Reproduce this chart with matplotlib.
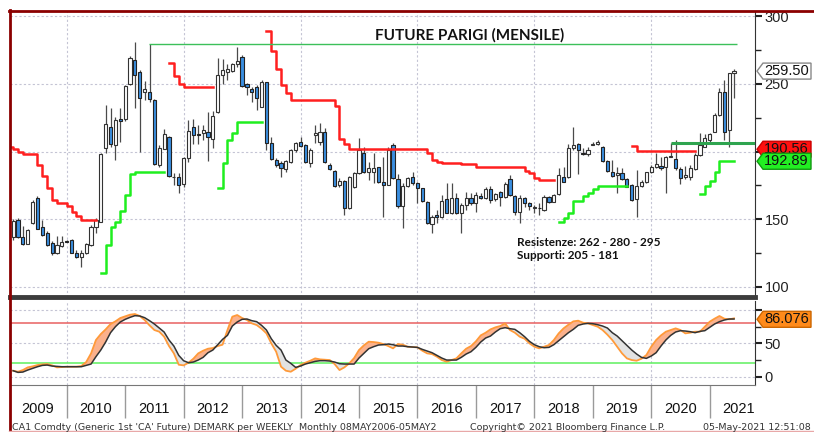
import numpy as np
import matplotlib
matplotlib.use("Agg")
import matplotlib.pyplot as plt
from matplotlib.patches import Polygon
from matplotlib.lines import Line2D
from matplotlib.transforms import IdentityTransform

plt.rcParams['font.family'] = ['Liberation Sans', 'DejaVu Sans']

# monthly candles, Jan 2009 .. May 2021 (index 0..148)
opens = [137, 149.5, 137, 132, 147, 165.5, 144.6, 139.7, 132.3, 124.9, 130.3, 134, 134.7, 125.4, 122, 124.9,
         131, 144.6, 148.3, 202.5, 218.5, 204.9, 224, 223.9, 250, 267.7, 259, 244, 244.3, 238, 190, 201.7,
         211, 181, 181.5, 176, 195, 218, 212.5, 213.5, 214.8, 209.1, 229.3, 256.6, 259, 259.6, 264.6, 269.7,
         249.7, 246, 247.5, 233.3, 251.2, 206.7, 193.8, 191.4, 187.2, 192.6, 201.2, 207.4, 204.9, 191.9, 212,
         207.4, 214.8, 190.1, 186, 175.4, 178.6, 158.1, 174.1, 184, 198.8, 185.2, 185, 188.4, 177.8, 175.4,
         204.9, 179.6, 159.9, 174.6, 181, 176.6, 172.9, 163.1, 146.6, 153.2, 151.5, 164.8, 154.4, 165.5, 154.4,
         160.6, 165.5, 161.8, 167.2, 165.5, 172.2, 164.8, 170.4, 166.7, 179.6, 167.5, 155.7, 165.5, 161.8, 158.5,
         158.4, 156.9, 166.3, 163.1, 168.7, 181.5, 181.5, 202.5, 205.4, 198.8, 198.3, 205, 206, 203.7, 193.3,
         185.2, 183, 184.5, 179.6, 175.4, 164.8, 174.6, 177.8, 184.7, 188.4, 189.4, 188.4, 196, 194.3, 187, 181,
         181, 187.2, 197.5, 203.7, 208.6, 214.8, 227.1, 244.3, 216, 258]
highs = [150, 151, 145, 142.5, 164.3, 167.5, 149.5, 141.4, 134, 137.7, 137.7, 134.5, 135.2, 127.3, 127.3, 132.3,
         145.8, 150.7, 199, 234.5, 232, 225.4, 232, 249, 271, 281, 260, 252, 279.5, 238.7, 205, 217,
         211.6, 184, 184, 196.3, 223.4, 224, 219.7, 219.7, 229.5, 230, 269, 268.2, 265, 265.3, 277, 271.4,
         250.5, 247.5, 249.3, 253, 251.7, 210.6, 195.1, 193.3, 193.8, 201.7, 207.4, 210.6, 205.7, 202.5, 219.7,
         221.4, 217.2, 191.4, 186.5, 180.3, 179.1, 182, 185.2, 209.9, 203.2, 192.6, 198.8, 188.9, 196.3, 203.7,
         206.6, 183.5, 176.6, 181.5, 185.2, 177.8, 173.4, 163.6, 153.2, 156.9, 168, 176.6, 177.1, 169.2, 161.8,
         170.4, 169.2, 170.4, 169.2, 174.1, 174.6, 169.2, 171.2, 177.8, 182.8, 168, 168, 166.3, 163.1, 160.6,
         161.8, 168, 167.2, 168.7, 187.7, 188.4, 205.7, 218.5, 206.2, 202.5, 203.7, 207.4, 208.6, 204.2, 193.8,
         193.8, 188.9, 187.7, 180.3, 176.1, 186.5, 179.1, 185.2, 190.1, 198.8, 196.3, 196.8, 206.2, 208.6, 188.9,
         189.4, 190.1, 198.8, 213.5, 213.1, 214, 228.3, 246.8, 253, 258.4, 260.8]
lows = [135, 136, 131, 131.5, 146.5, 143, 138, 130.3, 123.6, 124.4, 129.8, 133, 124.9, 121.4, 115, 124.4,
        130.3, 140, 148, 198.8, 203.7, 193.8, 207, 223, 249, 232, 200, 238, 237, 190, 189, 201.7,
        181.5, 175, 169.7, 174, 192.6, 206, 206, 208.6, 193.3, 202.5, 228.8, 249.8, 253, 259.1, 262.8, 248,
        241.9, 237, 230.8, 232.8, 201.2, 193.8, 188.9, 181.5, 185.2, 191.4, 200, 203.7, 191.4, 188.9, 206.2,
        204.9, 191.4, 186.5, 174.1, 174.1, 153.2, 157.6, 172.9, 183.5, 184, 179.1, 176.6, 177.1, 152, 175,
        179.6, 158.1, 143.3, 174.1, 175.4, 161.8, 163.1, 146.3, 140.2, 147, 150.7, 154.4, 153.7, 153.9, 139.7,
        156.9, 160.6, 155.7, 164.8, 165, 161.8, 163.8, 159.9, 165.5, 167.5, 153.2, 147.5, 159.4, 156.9, 154.4,
        153.2, 156.4, 162.3, 162.6, 168, 177.3, 180.3, 201.2, 183.5, 197.5, 196.8, 204.9, 204.9, 192.6, 185.2,
        181.5, 169.2, 179.1, 173.6, 163.8, 152, 174.1, 177.1, 184, 187.7, 186.5, 169.7, 195.8, 186.5, 176.1,
        179.6, 179.1, 186.5, 196.8, 203.2, 207.4, 214.3, 226.4, 208.6, 203.7, 239.4]
closes = [149, 137, 132, 142, 163, 143, 138.5, 131, 124.9, 131, 133, 133.5, 125.4, 122, 124.9, 131.5,
          144.6, 149.5, 198, 220.4, 205.7, 223.4, 223, 248.5, 269, 256.6, 239.4, 246, 238.7, 191, 202.5, 213,
          182.3, 181.5, 175.4, 195, 215.5, 212.3, 212.3, 216, 211, 226.6, 256.6, 260.3, 261, 264.6, 267.2, 248.5,
          247.5, 244, 239.4, 251.2, 206.2, 194.3, 190.1, 187.7, 193.1, 201.2, 206.2, 204.4, 192.1, 201.2, 214,
          214.8, 192.1, 187, 174.6, 178.6, 158.1, 181.5, 184.5, 201.2, 184.7, 187.7, 188, 177.8, 175.4, 201.2,
          180.3, 159.9, 174.6, 180.3, 176.6, 172.9, 163.6, 147, 152, 152, 163.8, 154.9, 165.5, 154.4, 160.6,
          165.5, 161.8, 168, 165.5, 172.2, 164.3, 168.7, 166.7, 176.1, 168, 155.7, 165.5, 161.8, 159.9, 159,
          158, 166.7, 163.1, 168, 182.8, 177.8, 202.5, 204.9, 201.2, 198.3, 201.2, 206, 207, 193.3, 185.9,
          182.3, 184, 179.6, 174.1, 164.3, 174.6, 177.8, 184.7, 188.9, 190.9, 187.7, 196.3, 197, 187.7, 180.3,
          182.8, 187.7, 197.5, 204.9, 209.9, 213.1, 226.8, 244.3, 214.8, 257.9, 259.5]

# DeMark step lines: (first month index, monthly values)
red_lines = [
    (-1, [203.2, 202, 200, 198.3, 198.3, 198.3, 190.1, 182.3, 172.9, 164.3, 161.8, 161.8, 160.1, 155.7,
          152.5, 149.5, 149.5, 149.5]),
    (32, [265.7, 256.2, 250, 248, 248, 248, 248, 248, 248]),
    (52, [289.3, 274.4, 260.7, 249, 243.3, 238.3, 238.3, 238.3, 238.3, 238.3, 238.3, 238.3, 238.3, 238.3,
          233.4, 209.7, 205.5, 202.2, 202.2, 202.2, 202.2, 202.2, 202.2, 202.2, 202.2, 202.2, 202.2, 202.2,
          202.2, 202.2, 202.2, 202.2, 202.2, 199.3, 194, 192.3, 191.6, 191.6, 191.6, 191.6, 190.5, 190.5, 190.5,
          188.6, 188.6, 188.6, 188.6, 188.6, 188.6, 188.6, 188.6, 188.6, 188.6, 186, 184.3, 180.6, 179.3, 179.3,
          179.3]),
    (127, [204, 200.3, 200.3, 200.3, 200.3, 200.3, 200.3, 200.3, 200.3, 200.3, 200.3, 200.3, 200.3]),
]
green_lines = [
    (18, [110.1, 131, 144.6, 148.3, 156.4, 168, 183.5, 185.2, 185.2, 185.2, 185.2, 185.2, 185.2]),
    (42, [172.9, 191.6, 208.4, 214, 221.6, 221.6, 221.6, 221.6, 221.6]),
    (112, [147.8, 151.2, 154.9, 163.8, 163.8, 167.2, 169.2, 172.2, 174.9, 174.9, 174.9, 174.9, 174.9, 174.9]),
    (141, [168.7, 174.6, 178.6, 185.2, 193.1, 193.1, 193.1]),
]
resist_280 = 279.3
resist_280_span = (27.8, 148.6)
level_206 = 206.6
level_206_start = 135
red_last, green_last = 190.56, 192.89

# DeMark oscillator, monthly
osc_orange = [9, 7.5, 10, 14, 15.5, 17.5, 18.5, 19, 17, 14, 14.5, 15, 15, 15, 16, 22, 35, 55, 64, 71, 79, 83,
              88, 90.5, 93, 94, 91, 85, 77, 70, 67.5, 60, 46, 35, 18, 17, 21, 27, 35, 39, 42, 43, 46, 48, 70,
              90, 92.5, 88, 85, 80, 77.5, 72, 65, 50, 37.5, 15, 9, 7.5, 12, 17.5, 21, 24, 27.5, 26, 25.5, 25,
              19, 10, 14, 20, 28, 40, 47, 52.5, 52, 51, 49, 46, 42.5, 49, 48, 45, 44.5, 44, 39, 35, 34, 30, 25,
              22.5, 25, 27.5, 35, 42, 46, 53, 62, 66, 71, 74, 76, 80, 70, 66, 60, 57, 50, 45, 42.5, 45, 47.5,
              55, 65, 72.5, 78, 83, 84, 81, 80, 77.5, 75, 70, 63, 55, 45, 35, 27.5, 25, 24, 27, 32.5, 45, 55,
              62, 67.5, 70, 72.5, 70, 65, 66, 67.5, 67.5, 75, 82.5, 87, 91, 87, 86, 87.5]
osc_black = [9, 6.5, 7, 10, 12.5, 15, 17, 17.5, 16, 15.5, 15, 15, 15, 15, 15, 17, 19, 30, 40, 52, 66, 75, 82,
             86, 89, 91.5, 91, 88.5, 84, 79, 73, 67, 55, 46, 32, 24, 21, 22, 25, 29, 36, 40, 48, 56, 62, 76,
             82, 86, 86.5, 84, 82.5, 77, 70, 57, 47, 40, 25, 20, 14, 16, 19, 21, 23, 24, 24, 23.5, 22, 19.5,
             19, 19, 19, 28, 35, 42, 45, 47.5, 48, 49, 48, 46, 46, 45, 44.5, 44, 41, 38.5, 36, 32, 28, 25, 25,
             25, 29, 34, 37.5, 44, 52, 58, 61, 67, 72, 73.5, 72, 71, 66, 60, 53, 48, 45, 43.5, 44, 48, 54, 60,
             66, 71, 77, 79, 80, 79.5, 78, 76, 73, 66, 61, 54, 47, 40, 34, 29, 27.5, 31, 36, 46, 55, 62, 67,
             69, 68.5, 67.5, 66, 68, 69, 74, 79, 82.5, 85, 86.5, 86.5]
osc_last = 86.076
osc_upper, osc_lower = 80, 20

years = list(range(2009, 2022))
price_ticks = [100, 150, 200, 250, 300]
osc_ticks = [0, 50, 100]

W, H = 814, 432
fig = plt.figure(figsize=(W / 100, H / 100), dpi=100)


def frac(x0, y0, x1, y1):
    return [x0 / W, 1 - y1 / H, (x1 - x0) / W, (y1 - y0) / H]


ax = fig.add_axes(frac(10, 11, 755, 297))
ax2 = fig.add_axes(frac(10, 301, 755, 385), sharex=ax)

k = np.arange(len(closes))
xlim = (-0.64, 152.3)
grid_kw = dict(color='#c4c4d4', lw=0.8, dashes=(2, 2), zorder=0)

# ---- price panel
for y in price_ticks:
    ax.axhline(y, **grid_kw)
for yr in years[1::2]:
    ax.axvline(12 * (yr - 2009) - 1, **grid_kw)

o, h, l, c = map(np.array, (opens, highs, lows, closes))
up = c >= o
ax.vlines(k, l, h, color='#4a4a4a', lw=0.9, zorder=2)
body_lo = np.minimum(o, c)
body_h = np.maximum(np.abs(c - o), 0.5)
ax.bar(k[up], body_h[up], bottom=body_lo[up], width=0.65, color='white', edgecolor='#333333',
       linewidth=0.8, zorder=3)
ax.bar(k[~up], body_h[~up], bottom=body_lo[~up], width=0.65, color='#3a8ee0', edgecolor='#222222',
       linewidth=0.8, zorder=3)


def step_line(axis, start, vals, color):
    xs = np.arange(start, start + len(vals) + 1)
    ys = list(vals) + [vals[-1]]
    axis.step(xs, ys, where='post', color=color, lw=1.8, zorder=4)


for start, vals in red_lines:
    step_line(ax, start, vals, '#ff1f1f')
for start, vals in green_lines:
    step_line(ax, start, vals, '#1fee1f')

ax.hlines(resist_280, *resist_280_span, color='#3cc05a', lw=1.0, zorder=4)
ax.hlines(level_206, level_206_start, xlim[1], color='#2ea44f', lw=2.2, zorder=4)

ax.set_xlim(*xlim)
ax.set_ylim(92.6, 303.9)
ax.yaxis.tick_right()
ax.set_yticks(price_ticks)
ax.set_yticklabels(['100', '150', '', '250', '300'])
ax.set_yticks([125, 175, 225, 275], minor=True)
ax.tick_params(axis='y', which='major', length=5, width=1.5, color='#222', labelsize=10.5,
               labelcolor='#222', pad=2)
ax.tick_params(axis='y', which='minor', length=4, width=1, color='#222')
ax.tick_params(axis='x', which='both', bottom=False, labelbottom=False)
for s in ('left', 'top'):
    ax.spines[s].set_visible(False)
ax.spines['right'].set_color('#333')
ax.spines['bottom'].set_color('#3c3c3c')
ax.spines['bottom'].set_linewidth(3.5)

ax.text(0.617, 0.915, 'FUTURE PARIGI (MENSILE)', transform=ax.transAxes, ha='center', va='center',
        fontsize=11, fontweight='bold', family=['Lato', 'DejaVu Sans'], color='#111')
ax.text(0.68, 0.19, 'Resistenze: 262 - 280 - 295', transform=ax.transAxes, ha='left', va='center',
        fontsize=8.5, fontweight='bold', family=['Lato', 'DejaVu Sans'], color='#111')
ax.text(0.68, 0.145, 'Supporti: 205 - 181', transform=ax.transAxes, ha='left', va='center',
        fontsize=8.5, fontweight='bold', family=['Lato', 'DejaVu Sans'], color='#111')

# ---- oscillator panel
for y in osc_ticks:
    ax2.axhline(y, **grid_kw)
for yr in years[1::2]:
    ax2.axvline(12 * (yr - 2009) - 1, **grid_kw)
ax2.axhline(osc_upper, color='#e86060', lw=1.1, zorder=1)
ax2.axhline(osc_lower, color='#5ef05e', lw=1.1, zorder=1)

ob, bk = np.array(osc_orange), np.array(osc_black)
ax2.fill_between(k, ob, bk, where=ob >= bk, interpolate=True, color='#fbb18c', lw=0, zorder=2)
ax2.fill_between(k, ob, bk, where=ob < bk, interpolate=True, color='#e2e2e2', lw=0, zorder=2)
ax2.plot(k, ob, color='#ff9a3a', lw=1.3, zorder=3)
ax2.plot(k, bk, color='#333333', lw=1.1, zorder=4)

ax2.set_ylim(-12.4, 113.5)
ax2.yaxis.tick_right()
ax2.set_yticks(osc_ticks)
ax2.set_yticklabels(['0', '50', ''])
ax2.set_yticks([25, 75], minor=True)
ax2.tick_params(axis='y', which='major', length=5, width=1.5, color='#222', labelsize=10.5,
                labelcolor='#222', pad=2)
ax2.tick_params(axis='y', which='minor', length=4, width=1, color='#222')
for s in ('left', 'top'):
    ax2.spines[s].set_visible(False)
ax2.spines['right'].set_color('#333')
ax2.spines['bottom'].set_color('#777')

ax2.set_xticks([12 * (yr - 2009) - 1 for yr in years[1:]])
ax2.set_xticklabels([])
ax2.set_xticks([12 * (yr - 2009) + 5 for yr in years], minor=True)
ax2.set_xticklabels([str(yr) for yr in years], minor=True)
ax2.tick_params(axis='x', which='major', direction='out', length=24, width=1, color='#9a9a9a')
ax2.tick_params(axis='x', which='minor', length=0, pad=12, labelsize=10.5, labelcolor='#111')
ax2.set_xlim(*xlim)


# ---- price tags on the right axis (later tags drawn on top of earlier ones)
def tag(axis, value, text, fc, ec, z, dy=0):
    x0 = axis.transAxes.transform((1, 0))[0]
    y0 = axis.transData.transform((0, value))[1] + dy
    hh = 8
    pts = [(x0 + 2, y0), (x0 + 8, y0 + hh), (x0 + 56, y0 + hh), (x0 + 56, y0 - hh), (x0 + 8, y0 - hh)]
    poly = Polygon(pts, closed=True, facecolor=fc, edgecolor=ec, lw=1, transform=IdentityTransform(),
                   zorder=z)
    fig.add_artist(poly)
    t = fig.text(x0 + 9, y0, text, transform=IdentityTransform(), ha='left', va='center',
                 fontsize=10.5, color='#111', zorder=z + 0.5)
    t.set_clip_path(poly)


tag(ax, closes[-1], '%.2f' % closes[-1], 'white', '#888888', 10)
tag(ax, green_last, '%.2f' % red_last, '#ff1010', '#cc0000', 12, dy=12)
tag(ax, green_last, '%.2f' % green_last, '#22ee22', '#119911', 14)
tag(ax2, osc_last, '%.3f' % osc_last, '#ff8a1a', '#cc6600', 16)

# ---- frame and footer
fig.add_artist(Line2D([9 / W, 1], [1 - 10.5 / H] * 2, color='#8b0000', lw=2))
fig.add_artist(Line2D([9.5 / W] * 2, [0, 1 - 10 / H], color='#8b0000', lw=2))
fig.add_artist(Line2D([9 / W, 1], [0.6 / H] * 2, color='#e8a8a8', lw=1))

foot = dict(fontsize=6.8, family=['DejaVu Sans'], color='#333', va='center')
fig.text(12 / W, 1 - 427 / H, "CA1 Comdty (Generic 1st 'CA' Future) DEMARK per WEEKLY  Monthly 08MAY2006-05MAY2",
         ha='left', **foot)
fig.text(470 / W, 1 - 427 / H, 'Copyright\u00a9 2021 Bloomberg Finance L.P.', ha='left', **foot)
fig.text(811 / W, 1 - 427 / H, '05-May-2021 12:51:08', ha='right', **foot)

fig.savefig('out.png', dpi=100, facecolor='white')
